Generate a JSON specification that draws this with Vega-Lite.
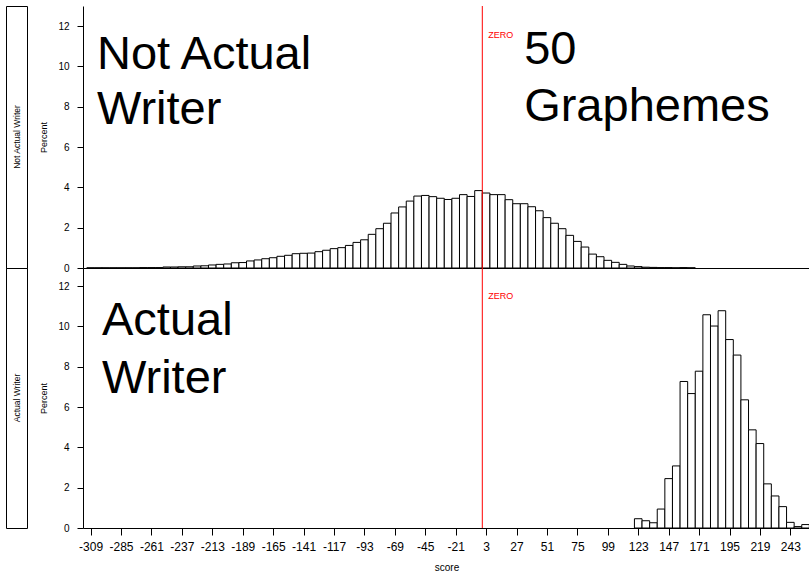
{
  "$schema": "https://vega.github.io/schema/vega-lite/v6.json",
  "padding": {"left": 5, "top": 5, "right": 0, "bottom": 0},
  "bounds": "flush",
  "columns": 2,
  "spacing": {"row": 0, "column": 56},
  "config": {
    "font": "Liberation Sans",
    "view": {"stroke": null},
    "axis": {
      "grid": false,
      "domainColor": "black",
      "tickColor": "black",
      "labelColor": "black",
      "titleColor": "black",
      "titleFontWeight": "normal",
      "domainWidth": 1,
      "tickWidth": 1
    }
  },
  "datasets": {
    "top": [
      {"lo": -312, "hi": -306, "pct": 0.01}, {"lo": -306, "hi": -300, "pct": 0.01}, {"lo": -300, "hi": -294, "pct": 0.01},
      {"lo": -294, "hi": -288, "pct": 0.01}, {"lo": -288, "hi": -282, "pct": 0.01}, {"lo": -282, "hi": -276, "pct": 0.01},
      {"lo": -276, "hi": -270, "pct": 0.01}, {"lo": -270, "hi": -264, "pct": 0.02}, {"lo": -264, "hi": -258, "pct": 0.02},
      {"lo": -258, "hi": -252, "pct": 0.02}, {"lo": -252, "hi": -246, "pct": 0.05}, {"lo": -246, "hi": -240, "pct": 0.05},
      {"lo": -240, "hi": -234, "pct": 0.06}, {"lo": -234, "hi": -228, "pct": 0.06}, {"lo": -228, "hi": -222, "pct": 0.10},
      {"lo": -222, "hi": -216, "pct": 0.11}, {"lo": -216, "hi": -210, "pct": 0.15}, {"lo": -210, "hi": -204, "pct": 0.18},
      {"lo": -204, "hi": -198, "pct": 0.20}, {"lo": -198, "hi": -192, "pct": 0.26}, {"lo": -192, "hi": -186, "pct": 0.27},
      {"lo": -186, "hi": -180, "pct": 0.35}, {"lo": -180, "hi": -174, "pct": 0.40}, {"lo": -174, "hi": -168, "pct": 0.46},
      {"lo": -168, "hi": -162, "pct": 0.51}, {"lo": -162, "hi": -156, "pct": 0.58}, {"lo": -156, "hi": -150, "pct": 0.63},
      {"lo": -150, "hi": -144, "pct": 0.71}, {"lo": -144, "hi": -138, "pct": 0.73}, {"lo": -138, "hi": -132, "pct": 0.74},
      {"lo": -132, "hi": -126, "pct": 0.81}, {"lo": -126, "hi": -120, "pct": 0.88}, {"lo": -120, "hi": -114, "pct": 0.96},
      {"lo": -114, "hi": -108, "pct": 1.01}, {"lo": -108, "hi": -102, "pct": 1.12}, {"lo": -102, "hi": -96, "pct": 1.27},
      {"lo": -96, "hi": -90, "pct": 1.40}, {"lo": -90, "hi": -84, "pct": 1.67}, {"lo": -84, "hi": -78, "pct": 1.95},
      {"lo": -78, "hi": -72, "pct": 2.22}, {"lo": -72, "hi": -66, "pct": 2.73}, {"lo": -66, "hi": -60, "pct": 3.03},
      {"lo": -60, "hi": -54, "pct": 3.32}, {"lo": -54, "hi": -48, "pct": 3.57}, {"lo": -48, "hi": -42, "pct": 3.60},
      {"lo": -42, "hi": -36, "pct": 3.54}, {"lo": -36, "hi": -30, "pct": 3.46}, {"lo": -30, "hi": -24, "pct": 3.40},
      {"lo": -24, "hi": -18, "pct": 3.46}, {"lo": -18, "hi": -12, "pct": 3.64}, {"lo": -12, "hi": -6, "pct": 3.55},
      {"lo": -6, "hi": 0, "pct": 3.84}, {"lo": 0, "hi": 6, "pct": 3.72}, {"lo": 6, "hi": 12, "pct": 3.64},
      {"lo": 12, "hi": 18, "pct": 3.64}, {"lo": 18, "hi": 24, "pct": 3.39}, {"lo": 24, "hi": 30, "pct": 3.19},
      {"lo": 30, "hi": 36, "pct": 3.19}, {"lo": 36, "hi": 42, "pct": 3.04}, {"lo": 42, "hi": 48, "pct": 2.84},
      {"lo": 48, "hi": 54, "pct": 2.50}, {"lo": 54, "hi": 60, "pct": 2.22}, {"lo": 60, "hi": 66, "pct": 1.95},
      {"lo": 66, "hi": 72, "pct": 1.62}, {"lo": 72, "hi": 78, "pct": 1.32}, {"lo": 78, "hi": 84, "pct": 1.04},
      {"lo": 84, "hi": 90, "pct": 0.69}, {"lo": 90, "hi": 96, "pct": 0.56}, {"lo": 96, "hi": 102, "pct": 0.38},
      {"lo": 102, "hi": 108, "pct": 0.28}, {"lo": 108, "hi": 114, "pct": 0.18}, {"lo": 114, "hi": 120, "pct": 0.10},
      {"lo": 120, "hi": 126, "pct": 0.07}, {"lo": 126, "hi": 132, "pct": 0.04}, {"lo": 132, "hi": 138, "pct": 0.03},
      {"lo": 138, "hi": 144, "pct": 0.02}, {"lo": 144, "hi": 150, "pct": 0.02}, {"lo": 150, "hi": 156, "pct": 0.01},
      {"lo": 156, "hi": 162, "pct": 0.02}, {"lo": 162, "hi": 168, "pct": 0.01}
    ],
    "bottom": [
      {"lo": 120, "hi": 126, "pct": 0.46}, {"lo": 126, "hi": 132, "pct": 0.36}, {"lo": 132, "hi": 138, "pct": 0.26},
      {"lo": 138, "hi": 144, "pct": 0.94}, {"lo": 144, "hi": 150, "pct": 2.45}, {"lo": 150, "hi": 156, "pct": 3.08},
      {"lo": 156, "hi": 162, "pct": 7.27}, {"lo": 162, "hi": 168, "pct": 6.67}, {"lo": 168, "hi": 174, "pct": 7.78},
      {"lo": 174, "hi": 180, "pct": 10.58}, {"lo": 180, "hi": 186, "pct": 10.02}, {"lo": 186, "hi": 192, "pct": 10.78},
      {"lo": 192, "hi": 198, "pct": 9.35}, {"lo": 198, "hi": 204, "pct": 8.58}, {"lo": 204, "hi": 210, "pct": 6.36},
      {"lo": 210, "hi": 216, "pct": 4.87}, {"lo": 216, "hi": 222, "pct": 4.19}, {"lo": 222, "hi": 228, "pct": 2.19},
      {"lo": 228, "hi": 234, "pct": 1.59}, {"lo": 234, "hi": 240, "pct": 1.06}, {"lo": 240, "hi": 246, "pct": 0.28},
      {"lo": 246, "hi": 252, "pct": 0.07}, {"lo": 252, "hi": 258, "pct": 0.17}
    ],
    "topText": [
      {"label": "Not Actual", "score": -304, "pct": 9.86},
      {"label": "Writer", "score": -304, "pct": 7.13},
      {"label": "50", "score": 33, "pct": 10.11},
      {"label": "Graphemes", "score": 33, "pct": 7.30}
    ],
    "bottomText": [
      {"label": "Actual", "score": -300, "pct": 9.58},
      {"label": "Writer", "score": -300, "pct": 6.71}
    ],
    "zeroTop": [{"label": "ZERO", "score": 0, "pct": 11.40}],
    "zeroBottom": [{"label": "ZERO", "score": 0, "pct": 11.35}]
  },
  "concat": [
    {
      "width": 21,
      "height": 262,
      "view": {"stroke": "black", "strokeWidth": 1},
      "data": {"values": [{"panel": "Not Actual Writer"}]},
      "mark": {"type": "text", "angle": 270, "fontSize": 8.5, "color": "black", "align": "center", "baseline": "middle"},
      "encoding": {"text": {"field": "panel"}}
    },
    {
      "width": 727,
      "height": 262,
      "layer": [
        {
          "data": {"name": "top"},
          "mark": {"type": "rect", "fill": "white", "stroke": "black", "strokeWidth": 1},
          "encoding": {
            "x": {"field": "lo", "type": "quantitative", "scale": {"domain": [-315, 258.5], "nice": false, "zero": false},
                  "axis": {"labels": false, "ticks": false, "title": null, "domain": true}},
            "x2": {"field": "hi"},
            "y": {"field": "pct", "type": "quantitative", "scale": {"domain": [0, 13], "nice": false},
                  "axis": {"values": [0, 2, 4, 6, 8, 10, 12], "title": "Percent", "titleFontSize": 9, "labelFontSize": 10,
                           "tickSize": 6, "labelPadding": 8, "titlePadding": 9}},
            "y2": {"datum": 0}
          }
        },
        {
          "data": {"name": "zeroTop"},
          "mark": {"type": "rule", "color": "#ff0000", "strokeWidth": 1},
          "encoding": {"x": {"field": "score", "type": "quantitative"}}
        },
        {
          "data": {"name": "zeroTop"},
          "mark": {"type": "text", "color": "#ff0000", "fontSize": 9, "align": "left", "baseline": "alphabetic", "dx": 6},
          "encoding": {
            "x": {"field": "score", "type": "quantitative"},
            "y": {"field": "pct", "type": "quantitative"},
            "text": {"field": "label"}
          }
        },
        {
          "data": {"name": "topText"},
          "mark": {"type": "text", "color": "black", "fontSize": 47, "align": "left", "baseline": "alphabetic"},
          "encoding": {
            "x": {"field": "score", "type": "quantitative"},
            "y": {"field": "pct", "type": "quantitative"},
            "text": {"field": "label"}
          }
        }
      ]
    },
    {
      "width": 21,
      "height": 260,
      "view": {"stroke": "black", "strokeWidth": 1},
      "data": {"values": [{"panel": "Actual Writer"}]},
      "mark": {"type": "text", "angle": 270, "fontSize": 8.5, "color": "black", "align": "center", "baseline": "middle"},
      "encoding": {"text": {"field": "panel"}}
    },
    {
      "width": 727,
      "height": 260,
      "layer": [
        {
          "data": {"name": "bottom"},
          "mark": {"type": "rect", "fill": "white", "stroke": "black", "strokeWidth": 1, "clip": true},
          "encoding": {
            "x": {"field": "lo", "type": "quantitative", "scale": {"domain": [-315, 258.5], "nice": false, "zero": false},
                  "axis": {"values": [-309, -285, -261, -237, -213, -189, -165, -141, -117, -93, -69, -45, -21, 3, 27, 51, 75, 99, 123, 147, 171, 195, 219, 243],
                           "tickCount": 40,
                           "labelExpr": "'' + datum.value",
                           "title": "score", "titleFontSize": 10, "labelFontSize": 12, "tickSize": 7, "labelPadding": 6, "titlePadding": 10,
                           "labelOverlap": false}},
            "x2": {"field": "hi"},
            "y": {"field": "pct", "type": "quantitative", "scale": {"domain": [0, 12.9], "nice": false},
                  "axis": {"values": [0, 2, 4, 6, 8, 10, 12], "title": "Percent", "titleFontSize": 9, "labelFontSize": 10,
                           "tickSize": 6, "labelPadding": 8, "titlePadding": 9}},
            "y2": {"datum": 0}
          }
        },
        {
          "data": {"name": "zeroBottom"},
          "mark": {"type": "rule", "color": "#ff0000", "strokeWidth": 1},
          "encoding": {"x": {"field": "score", "type": "quantitative"}}
        },
        {
          "data": {"name": "zeroBottom"},
          "mark": {"type": "text", "color": "#ff0000", "fontSize": 9, "align": "left", "baseline": "alphabetic", "dx": 6},
          "encoding": {
            "x": {"field": "score", "type": "quantitative"},
            "y": {"field": "pct", "type": "quantitative"},
            "text": {"field": "label"}
          }
        },
        {
          "data": {"name": "bottomText"},
          "mark": {"type": "text", "color": "black", "fontSize": 47, "align": "left", "baseline": "alphabetic"},
          "encoding": {
            "x": {"field": "score", "type": "quantitative"},
            "y": {"field": "pct", "type": "quantitative"},
            "text": {"field": "label"}
          }
        }
      ]
    }
  ]
}
